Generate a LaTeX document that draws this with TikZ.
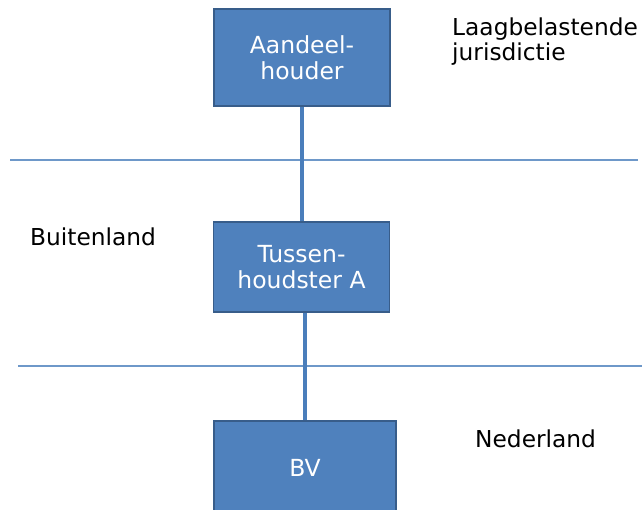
\documentclass[tikz,border=0pt]{standalone}
\usepackage{fontspec}
\setmainfont{DejaVu Sans}
\usepackage{tikz}
\definecolor{boxblue}{HTML}{4F81BD}
\definecolor{boxedge}{HTML}{385D8A}
\definecolor{linkblue}{HTML}{4A7EBB}
\tikzset{
  entity/.style={draw=boxedge, fill=boxblue, line width=1.6pt, text=white,
    align=center, minimum width=176pt, font=\fontsize{23.5}{26}\selectfont},
  zone/.style={anchor=base west, inner sep=0pt, align=left,
    font=\fontsize{23.3}{25}\selectfont},
  link/.style={linkblue, line width=3.5pt},
  border/.style={linkblue!80, line width=1.1pt}
}

\begin{document}
\begin{tikzpicture}[x=1pt, y=-1pt]
\useasboundingbox (0,0) rectangle (642,510);
\draw[border] (10,160) -- (638,160);
\draw[border] (18,366) -- (642,366);
\node[entity, minimum height=97pt] (aandeel) at (302,57.5) {Aandeel-\\houder};
\node[entity, minimum height=90pt] (tussen) at (301.5,267) {Tussen-\\houdster A};
\node[entity, minimum width=182pt, minimum height=94pt] (bv) at (305,468) {BV};
\draw[link] (aandeel.south) -- (aandeel.south |- tussen.north);
\draw[link] (tussen.south -| bv.north) -- (bv.north);
\node[zone] (laag) at (452,61) {Laagbelastende\\jurisdictie};
\node[zone] (buiten) at (30,246) {Buitenland};
\node[zone] (ned) at (475,447) {Nederland};
\end{tikzpicture}
\end{document}
